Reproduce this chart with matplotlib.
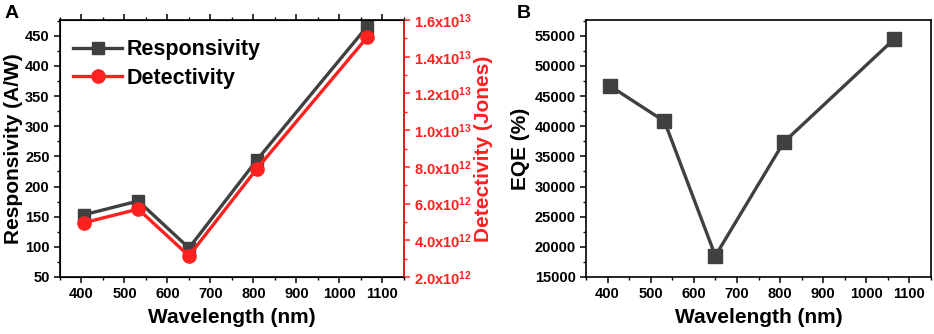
import numpy as np
import matplotlib
matplotlib.use('Agg')
import matplotlib.pyplot as plt
from matplotlib.ticker import MultipleLocator, FuncFormatter

plt.rcParams['font.family'] = ['Liberation Sans', 'DejaVu Sans']
plt.rcParams['font.weight'] = 'bold'
plt.rcParams['mathtext.fontset'] = 'custom'
plt.rcParams['mathtext.rm'] = 'Liberation Sans:bold'
plt.rcParams['mathtext.bf'] = 'Liberation Sans:bold'

wavelength = [405, 532, 650, 808, 1064]
responsivity = [153, 176, 98, 244, 465]
detectivity = [4.95e12, 5.7e12, 3.15e12, 7.9e12, 1.505e13]
eqe = [46700, 40800, 18500, 37300, 54400]

GRAY = '#404040'
RED = '#ff2020'

fig = plt.figure(figsize=(9.34, 3.34), dpi=100)
axA = fig.add_axes([0.0642, 0.1707, 0.3683, 0.7693])
axB = fig.add_axes([0.6274, 0.1707, 0.3694, 0.7693])

def style_x(ax):
    ax.set_xlim(350, 1150)
    ax.xaxis.set_major_locator(MultipleLocator(100))
    ax.xaxis.set_minor_locator(MultipleLocator(50))
    ax.set_xlabel('Wavelength (nm)', fontsize=15, fontweight='bold', labelpad=5)
    for s in ax.spines.values():
        s.set_linewidth(1.2)

# panel A
l1, = axA.plot(wavelength, responsivity, '-s', color=GRAY, lw=2.4, ms=8.5, label='Responsivity')
axA.set_ylim(50, 476)
axA.yaxis.set_major_locator(MultipleLocator(50))
axA.yaxis.set_minor_locator(MultipleLocator(25))
axA.set_ylabel('Responsivity (A/W)', fontsize=15, fontweight='bold', labelpad=1)
style_x(axA)
axA.tick_params(axis='both', which='major', labelsize=10.5, length=4, width=1.1, direction='out')
axA.tick_params(axis='both', which='minor', length=2.5, width=1.0, direction='out')
axA.tick_params(axis='x', top=True, which='both')

axA2 = axA.twinx()
l2, = axA2.plot(wavelength, detectivity, '-o', color=RED, lw=2.4, ms=9.5, label='Detectivity')
axA2.set_ylim(2e12, 1.6e13)
axA2.yaxis.set_major_locator(MultipleLocator(2e12))
axA2.yaxis.set_minor_locator(MultipleLocator(1e12))

def sci(v, pos):
    if v <= 0:
        return ''
    e = int(np.floor(np.log10(v) + 1e-9))
    m = v / 10**e
    return r'$\mathbf{%.1fx10^{%d}}$' % (m, e)

axA2.yaxis.set_major_formatter(FuncFormatter(sci))
axA2.tick_params(axis='y', which='major', labelsize=10.5, length=4, width=1.1, colors=RED)
axA2.tick_params(axis='y', which='minor', length=2.5, width=1.0, colors=RED)
axA2.spines['right'].set_color(RED)
axA2.spines['right'].set_linewidth(1.2)
axA2.set_ylabel('Detectivity (Jones)', fontsize=15, fontweight='bold', color=RED, labelpad=1)

axA.legend(handles=[l1, l2], loc='upper left', frameon=False, fontsize=15.5,
           handlelength=2.3, handletextpad=0.2, borderaxespad=0.2, labelspacing=0.35,
           bbox_to_anchor=(0.0, 0.975))
axA.text(-0.16, 1.06, 'A', transform=axA.transAxes, fontsize=14, fontweight='bold',
         ha='left', va='top')

# panel B
axB.plot(wavelength, eqe, '-s', color=GRAY, lw=2.4, ms=10)
axB.set_ylim(15000, 57600)
axB.yaxis.set_major_locator(MultipleLocator(5000))
axB.yaxis.set_minor_locator(MultipleLocator(2500))
axB.set_ylabel('EQE (%)', fontsize=15, fontweight='bold', labelpad=3)
style_x(axB)
axB.tick_params(axis='both', which='major', labelsize=10.5, length=4, width=1.1, direction='out')
axB.tick_params(axis='both', which='minor', length=2.5, width=1.0, direction='out')
axB.text(-0.2, 1.06, 'B', transform=axB.transAxes, fontsize=14, fontweight='bold',
         ha='left', va='top')

fig.savefig('out.png', dpi=100)
